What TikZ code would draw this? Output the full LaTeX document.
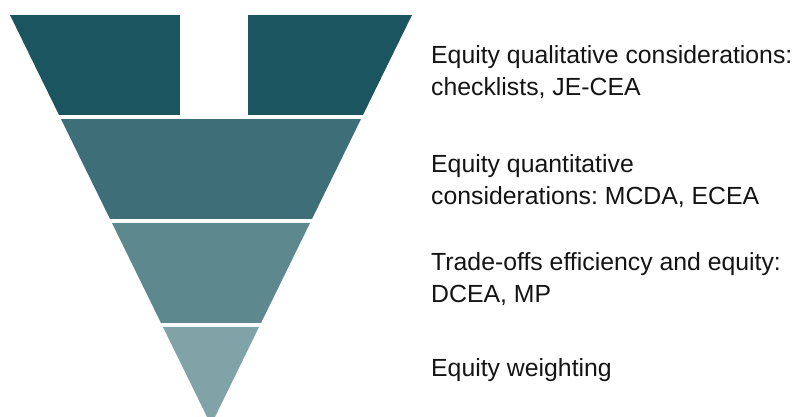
\documentclass[tikz,border=0pt]{standalone}
\usepackage{fontspec}
\setmainfont{Liberation Sans}
\usepackage{xcolor}
\definecolor{tealA}{HTML}{1B5560}
\definecolor{tealB}{HTML}{3E6E77}
\definecolor{tealC}{HTML}{5D898E}
\definecolor{tealD}{HTML}{7FA3A6}
\definecolor{txt}{HTML}{141414}
\frenchspacing

\begin{document}
\begin{tikzpicture}[x=1pt, y=-1pt,
    lbl/.style={anchor=north west, inner sep=0pt, align=left, text=txt,
        font=\fontsize{24.8}{32}\selectfont}]
    \useasboundingbox (0,0) rectangle (795,416);
    \begin{scope}
        \clip (10,15) -- (412,15) -- (211,425) -- cycle;
        \fill[tealA] (0,15) rectangle (420,115);
        \fill[tealB] (0,119) rectangle (420,219);
        \fill[tealC] (0,223) rectangle (420,323);
        \fill[tealD] (0,327) rectangle (420,430);
    \end{scope}
    \fill[white] (180,14) rectangle (248,117);
    \node[lbl] (qual) at (431,45) {Equity qualitative considerations:\\checklists, JE-CEA};
    \node[lbl] (quant) at (431,154) {Equity quantitative\\considerations: MCDA, ECEA};
    \node[lbl] (trade) at (431,252) {Trade-offs efficiency and equity:\\DCEA, MP};
    \node[lbl] (weight) at (431,358) {Equity weighting};
\end{tikzpicture}
\end{document}
